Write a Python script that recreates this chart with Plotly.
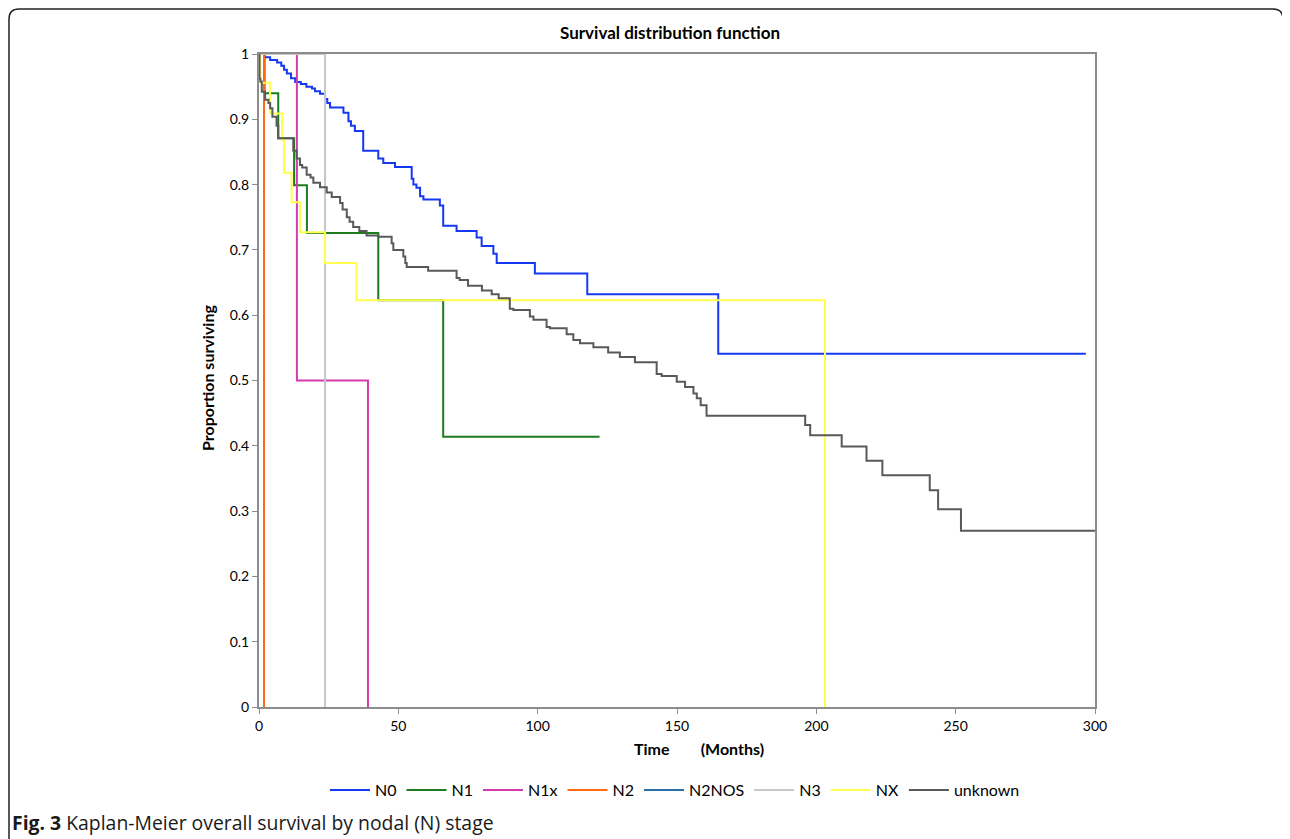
import plotly.graph_objects as go

# ---- data (time in months, proportion surviving after each step) ----
n0_t = [0, 2, 4, 6.5, 8, 9, 10, 11.5, 13, 15, 17, 19, 20.1, 21.9, 23.7, 24.5, 25.5, 30.3, 32.1, 33,
        34.4, 37.4, 42.8, 44.6, 48.8, 54.8, 55.4, 56.5, 57.8, 59, 64.9, 66.1, 70.9, 78.1, 79.9,
        84.1, 85.3, 99.0, 117.8, 164.8, 296.7]
n0_s = [1.0, 0.995, 0.991, 0.987, 0.982, 0.976, 0.970, 0.963, 0.957, 0.954, 0.950, 0.947, 0.943,
        0.939, 0.931, 0.925, 0.918, 0.910, 0.897, 0.890, 0.882, 0.852, 0.840, 0.833, 0.827, 0.809,
        0.800, 0.795, 0.782, 0.777, 0.768, 0.737, 0.729, 0.719, 0.706, 0.694, 0.680, 0.664, 0.632,
        0.541, 0.541]

n1_t = [0, 2, 6.9, 12.6, 17.2, 42.8, 66.1, 122.2]
n1_s = [1.0, 0.940, 0.871, 0.799, 0.726, 0.623, 0.414, 0.414]

n1x_t = [0, 13.6, 39.1]
n1x_s = [1.0, 0.5, 0.0]

n2_t = [0, 1.8]
n2_s = [1.0, 0.0]

n2nos_t = [0]
n2nos_s = [1.0]

n3_t = [0, 23.7]
n3_s = [1.0, 0.0]

nx_t = [0, 0.5, 4, 8.3, 9, 11.7, 14.7, 23.7, 35, 203.1]
nx_s = [1.0, 0.956, 0.909, 0.868, 0.818, 0.773, 0.727, 0.680, 0.623, 0.0]

unk_t = [0, 0.2, 0.5, 1, 2.2, 3.4, 4, 4.8, 6.3, 6.9, 12.3, 13.5, 14.7, 15.5, 17.1, 18.5, 19.5,
         21.9, 24.3, 26.1, 29.1, 30, 31.5, 32.5, 33.8, 36, 38.6, 42.8, 47.6, 48.2, 51.8, 52.5, 53,
         60.7, 70.9, 72, 75, 80, 83.5, 86, 90, 91.3, 97.2, 98.5, 103.2, 104.4, 110.4, 112.8, 115.2,
         120, 125.3, 129.5, 134.9, 142.7, 144.5, 149.9, 152.9, 155.9, 157.1, 158.5, 160.6, 196,
         197.8, 209.1, 218.0, 223.7, 240.7, 243.7, 251.9, 300]
unk_s = [1.0, 0.962, 0.958, 0.942, 0.930, 0.925, 0.917, 0.904, 0.890, 0.871, 0.852, 0.840, 0.830,
         0.826, 0.815, 0.811, 0.803, 0.796, 0.788, 0.781, 0.772, 0.762, 0.750, 0.743, 0.735, 0.729,
         0.722, 0.720, 0.710, 0.700, 0.690, 0.680, 0.674, 0.668, 0.657, 0.654, 0.645, 0.638, 0.632,
         0.626, 0.610, 0.608, 0.598, 0.593, 0.582, 0.580, 0.571, 0.562, 0.557, 0.551, 0.543, 0.536,
         0.528, 0.510, 0.507, 0.498, 0.490, 0.480, 0.473, 0.462, 0.446, 0.432, 0.416, 0.399, 0.377,
         0.355, 0.332, 0.303, 0.270, 0.270]

series_names = ["N0", "N1", "N1x", "N2", "N2NOS", "N3", "NX", "unknown"]
series_t = [n0_t, n1_t, n1x_t, n2_t, n2nos_t, n3_t, nx_t, unk_t]
series_s = [n0_s, n1_s, n1x_s, n2_s, n2nos_s, n3_s, nx_s, unk_s]
colors = ["#1538F2", "#1E7B1E", "#D63AAF", "#FF6A13", "#2A6FA8", "#C8C8C8", "#FFFF4D", "#595959"]

x_ticks = [0, 50, 100, 150, 200, 250, 300]
y_ticks = [0, 0.1, 0.2, 0.3, 0.4, 0.5, 0.6, 0.7, 0.8, 0.9, 1]
y_tick_text = ["0", "0.1", "0.2", "0.3", "0.4", "0.5", "0.6", "0.7", "0.8", "0.9", "1"]

fig = go.Figure()
for name, t, s, c in zip(series_names, series_t, series_s, colors):
    fig.add_trace(go.Scatter(x=t, y=s, mode="lines", name=name,
                             line=dict(color=c, width=2, shape="hv")))

# the page body adds an 8px offset; size the figure so the plot lands where the reference has it
OFF = 8
W, H = 1290 - OFF, 839 - OFF
PL, PR, PT, PB = 259, 1095, 54, 707   # plot area in page pixels
pw, ph = PR - PL, PB - PT

def px(X):
    return (X - PL) / pw

def py(Y):
    return (PB - Y) / ph

axis_common = dict(showline=True, linecolor="#8C8C8C", linewidth=2, mirror=True,
                   showgrid=False, zeroline=False, ticks="outside", ticklen=5,
                   tickcolor="#8C8C8C", layer="below traces",
                   tickfont=dict(family="Lato", size=14, color="#000000"))

fig.update_layout(
    width=W, height=H,
    margin=dict(l=PL - OFF, r=W - (PR - OFF), t=PT - OFF, b=H - (PB - OFF), autoexpand=False),
    paper_bgcolor="white", plot_bgcolor="white",
    xaxis=dict(range=[0, 300], tickvals=x_ticks, **axis_common),
    yaxis=dict(range=[0, 1], tickvals=y_ticks, ticktext=y_tick_text, **axis_common),
    showlegend=True,
    legend=dict(orientation="h", x=px(675), xanchor="center", y=py(790), yanchor="middle",
                itemwidth=40, font=dict(family="Lato", size=16, color="#000000"),
                bgcolor="rgba(0,0,0,0)"),
)

fig.add_annotation(text="<b>Survival distribution function</b>", xref="paper", yref="paper",
                   x=px(670), y=py(33), xanchor="center", yanchor="middle", showarrow=False,
                   font=dict(family="Lato", size=17, color="#000000"))
fig.add_annotation(text="<b>Time" + "&nbsp;" * 8 + "(Months)</b>", xref="paper", yref="paper",
                   x=px(699), y=py(748), xanchor="center", yanchor="middle", showarrow=False,
                   font=dict(family="Lato", size=16, color="#000000"))
fig.add_annotation(text="<b>Proportion surviving</b>", xref="paper", yref="paper",
                   x=px(207), y=py(378), xanchor="center", yanchor="middle", showarrow=False,
                   textangle=-90, font=dict(family="Lato", size=16, color="#000000"))
fig.add_annotation(text="<b>Fig. 3</b> Kaplan-Meier overall survival by nodal (N) stage",
                   xref="paper", yref="paper", x=px(10), y=py(822), xanchor="left",
                   yanchor="middle", showarrow=False,
                   font=dict(family="Open Sans", size=19.4, color="#1a1a1a"))

# outer rounded border of the figure panel
x0, x1 = px(9), px(1283)
yt, yb = py(9), py(860)
rx, ry = 10 / pw, 10 / ph
path = (f"M {x0},{yb} L {x0},{yt - ry} Q {x0},{yt} {x0 + rx},{yt} "
        f"L {x1 - rx},{yt} Q {x1},{yt} {x1},{yt - ry} L {x1},{yb}")
fig.add_shape(type="path", path=path, xref="paper", yref="paper",
              line=dict(color="#222222", width=1.5))

fig.write_html("out.html")
